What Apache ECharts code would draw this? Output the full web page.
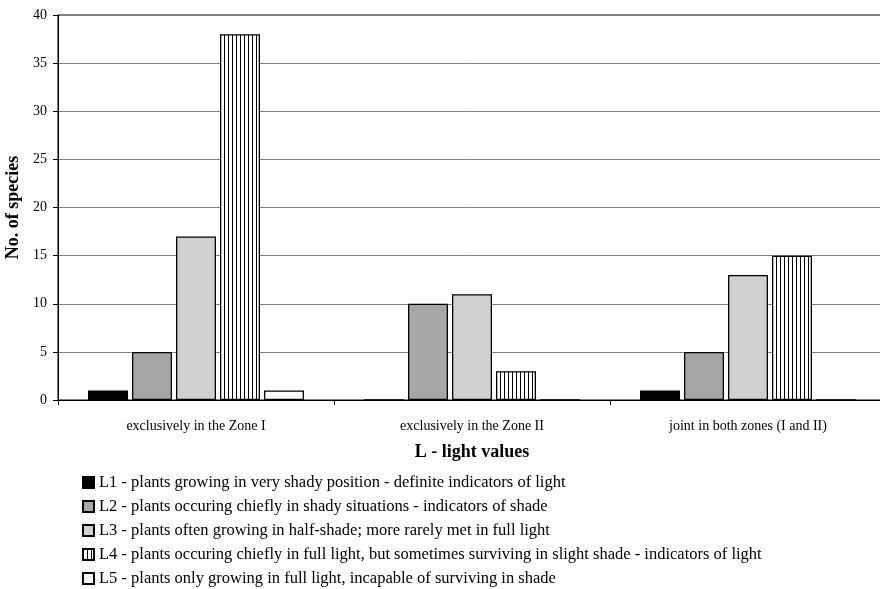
<!DOCTYPE html>
<html>
<head>
<meta charset="utf-8">
<script src="https://cdn.jsdelivr.net/npm/echarts@6/dist/echarts.min.js"></script>
<style>
  html, body { margin: 0; padding: 0; background: #fff; }
  #chart { width: 880px; height: 589px; }
</style>
</head>
<body>
<div id="chart"></div>
<script>
// Categories along the x axis
const zones = ['exclusively in the Zone I', 'exclusively in the Zone II', 'joint in both zones (I and II)'];

// Light-value groups (legend labels)
const lightNames = [
  'L1 - plants growing in very shady position - definite indicators of light',
  'L2 - plants occuring chiefly in shady situations - indicators of shade',
  'L3 - plants often growing in half-shade; more rarely met in full light',
  'L4 - plants occuring chiefly in full light, but sometimes surviving in slight shade - indicators of light',
  'L5 - plants only growing in full light, incapable of surviving in shade'
];

// Number of species per light value, per zone
const l1 = [1, 0, 1];
const l2 = [5, 10, 5];
const l3 = [17, 11, 13];
const l4 = [38, 3, 15];
const l5 = [1, 0, 0];

const yTicks = [0, 5, 10, 15, 20, 25, 30, 35, 40];

// Vertical stripe fill for L4
function stripePattern() {
  const c = document.createElement('canvas');
  c.width = 4; c.height = 4;
  const ctx = c.getContext('2d');
  ctx.fillStyle = '#ffffff';
  ctx.fillRect(0, 0, 4, 4);
  ctx.fillStyle = '#000000';
  ctx.fillRect(0, 0, 1, 4);
  return { image: c, repeat: 'repeat' };
}

const fills = ['#000000', '#a6a6a6', '#d0d0d0', stripePattern(), '#ffffff'];
const values = [l1, l2, l3, l4, l5];

const font = 'Liberation Serif, Times New Roman, serif';

const chart = echarts.init(document.getElementById('chart'), null, { renderer: 'canvas' });

chart.setOption({
  animation: false,
  backgroundColor: '#ffffff',
  textStyle: { fontFamily: font, color: '#000' },
  grid: {
    left: 58, top: 15, width: 828, height: 385,
    containLabel: false,
    outerBoundsMode: 'none',
    show: true, borderColor: '#000', borderWidth: 1, backgroundColor: 'transparent'
  },
  legend: {
    orient: 'vertical',
    left: 82, top: 474,
    padding: 0,
    height: 115,
    itemWidth: 11, itemHeight: 11, itemGap: 7,
    icon: 'rect',
    textStyle: { fontFamily: font, fontSize: 16.5, color: '#000', lineHeight: 17 },
    data: lightNames
  },
  xAxis: {
    type: 'category',
    data: zones,
    name: 'L - light values',
    nameLocation: 'middle',
    nameGap: 43,
    nameTextStyle: { fontFamily: font, fontSize: 18, fontWeight: 'bold', color: '#000' },
    axisLine: { lineStyle: { color: '#000', width: 1 } },
    axisTick: { show: true, length: 5, lineStyle: { color: '#000' } },
    axisLabel: { fontFamily: font, fontSize: 14, color: '#000', margin: 19 }
  },
  yAxis: {
    type: 'value',
    min: yTicks[0], max: yTicks[yTicks.length - 1], interval: 5,
    name: 'No. of species',
    nameLocation: 'middle',
    nameGap: 31,
    nameRotate: 90,
    nameTextStyle: { fontFamily: font, fontSize: 18, fontWeight: 'bold', color: '#000' },
    axisLine: { show: true, lineStyle: { color: '#000', width: 1 } },
    axisTick: { show: true, length: 5, lineStyle: { color: '#000' } },
    axisLabel: { fontFamily: font, fontSize: 14, color: '#000', margin: 11 },
    splitLine: { show: true, lineStyle: { color: '#808080', width: 1 } }
  },
  series: lightNames.map((name, i) => ({
    name: name,
    type: 'bar',
    data: values[i],
    barWidth: 40,
    barGap: '10%',
    itemStyle: { color: fills[i], borderColor: '#000', borderWidth: 1.3 }
  }))
});
</script>
</body>
</html>
